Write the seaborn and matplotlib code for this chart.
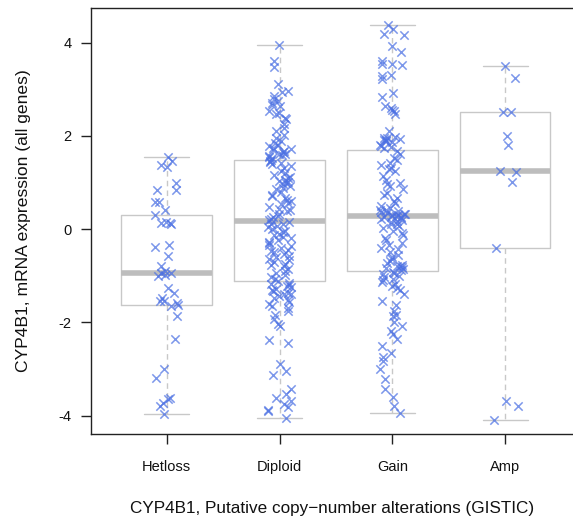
import numpy as np
import pandas as pd
import matplotlib
matplotlib.use("Agg")
import matplotlib.pyplot as plt
import seaborn as sns

groups = ["Hetloss", "Diploid", "Gain", "Amp"]

hetloss = [1.54, 1.47, 1.37, 1.33, 0.99, 0.83, 0.83, 0.58, 0.58, 0.42, 0.30, 0.15,
           0.14, 0.13, 0.11, -0.33, -0.39, -0.58, -0.79, -0.90, -0.94, -0.95, -0.98,
           -1.00, -1.26, -1.36, -1.48, -1.55, -1.55, -1.58, -1.62, -1.65, -1.86,
           -2.35, -3.00, -3.20, -3.61, -3.65, -3.72, -3.79, -3.97]

diploid = [3.94, 3.61, 3.47, 3.10, 2.96, 2.94, 2.85, 2.78, 2.74, 2.70, 2.67, 2.63,
           2.53, 2.49, 2.46, 2.38, 2.35, 2.25, 2.17, 2.10, 2.02, 1.95, 1.88, 1.84,
           1.81, 1.78, 1.74, 1.72, 1.70, 1.67, 1.65, 1.62, 1.60, 1.58, 1.56, 1.54, 1.52,
           1.48, 1.46, 1.43, 1.41, 1.39, 1.35, 1.30, 1.24, 1.20, 1.17, 1.12, 1.10,
           1.05, 1.03, 1.02, 0.98, 0.96, 0.92, 0.89, 0.85, 0.80, 0.74, 0.70, 0.67,
           0.63, 0.60, 0.55, 0.53, 0.48, 0.44, 0.40, 0.38, 0.33, 0.29, 0.25, 0.22, 0.19,
           0.15, 0.12, 0.10, 0.07, 0.04, 0.00, -0.03, -0.06, -0.10, -0.13, -0.16,
           -0.20, -0.24, -0.27, -0.30, -0.34, -0.37, -0.40, -0.44, -0.47, -0.50,
           -0.53, -0.57, -0.60, -0.64, -0.67, -0.70, -0.74, -0.77, -0.80, -0.85,
           -0.90, -0.94, -0.98, -1.03, -1.07, -1.11,
           -1.15, -1.17, -1.19, -1.22, -1.25, -1.28, -1.31, -1.33, -1.36, -1.38,
           -1.40, -1.44, -1.47, -1.52, -1.57, -1.61, -1.65, -1.68, -1.75, -1.83,
           -1.92, -2.04, -2.08, -2.37, -2.44, -2.90, -3.04, -3.13, -3.43, -3.54,
           -3.61, -3.68, -3.75, -3.82, -3.88, -3.90, -4.04]

gain = [4.38, 4.28, 4.18, 4.17, 3.92, 3.80, 3.60, 3.54, 3.54, 3.52, 3.31, 3.28,
        3.21, 2.92, 2.83, 2.63, 2.60, 2.56, 2.53, 2.46, 2.11, 1.98, 1.96, 1.95,
        1.93, 1.92, 1.90, 1.89, 1.86, 1.81, 1.78, 1.76, 1.74,
        1.68, 1.60, 1.52, 1.49, 1.42, 1.38, 1.31, 1.28, 1.24, 1.13, 1.05, 0.99,
        0.96, 0.92, 0.85, 0.78, 0.74, 0.67, 0.60, 0.56, 0.50, 0.46, 0.42, 0.40,
        0.38, 0.36, 0.35, 0.33, 0.32, 0.31, 0.30, 0.29, 0.28,
        0.27, 0.26, 0.24, 0.22, 0.20, 0.18, 0.15, 0.12, 0.10, 0.06, 0.02, -0.03,
        -0.08, -0.13, -0.18, -0.24, -0.30, -0.33, -0.40, -0.43, -0.50, -0.55,
        -0.60, -0.65, -0.69, -0.72, -0.76, -0.78, -0.80, -0.82, -0.84, -0.86, -0.88,
        -0.92, -0.95, -0.97, -1.00, -1.03, -1.06, -1.10, -1.14, -1.18, -1.22,
        -1.26, -1.30, -1.40, -1.55, -1.62, -1.76, -1.83, -1.86, -2.00, -2.08,
        -2.18, -2.25, -2.36, -2.50, -2.65, -2.75, -2.83, -3.00, -3.22, -3.43,
        -3.60, -3.79, -3.93]

amp = [3.49, 3.24, 2.50, 2.50, 1.99, 1.80, 1.24, 1.23, 1.01, -0.41, -3.68, -3.79, -4.08]

yticks = [-4, -2, 0, 2, 4]

df = pd.DataFrame({
    "group": (["Hetloss"] * len(hetloss) + ["Diploid"] * len(diploid)
              + ["Gain"] * len(gain) + ["Amp"] * len(amp)),
    "value": hetloss + diploid + gain + amp,
})

sns.set_style("white")
plt.rcParams["font.family"] = ["Liberation Sans", "DejaVu Sans"]

fig = plt.figure(figsize=(5.73, 5.18), dpi=100)
ax = fig.add_axes([0.1588, 0.1622, 0.8412, 0.8224])

box_col = "#c8c8c8"
sns.boxplot(data=df, x="group", y="value", order=groups, width=0.8, fill=False,
            whis=(0, 100), showfliers=False, color=box_col, linewidth=1.0,
            medianprops=dict(color="#bdbdbd", linewidth=4),
            whiskerprops=dict(color=box_col, linestyle=(0, (4, 3)), linewidth=1.0),
            capprops=dict(color=box_col, linewidth=1.0),
            boxprops=dict(color=box_col, linewidth=1.0),
            ax=ax, zorder=1)

np.random.seed(3)
sns.stripplot(data=df, x="group", y="value", order=groups, jitter=0.11,
              marker="x", color="#4a6fe3", size=6, linewidth=1.1, alpha=0.72,
              ax=ax, zorder=3)

ax.set_xlim(-0.67, 3.6)
ax.set_ylim(-4.39, 4.74)
ax.set_yticks(yticks)
ax.set_yticklabels([str(t) for t in yticks])

for s in ["left", "bottom", "top"]:
    ax.spines[s].set_color("#222222")
    ax.spines[s].set_linewidth(1.0)
ax.spines["right"].set_visible(False)

ax.tick_params(axis="both", which="both", direction="out", length=7, width=1,
               color="#222222", labelsize=10.5, labelcolor="#111111", pad=7,
               left=True, bottom=True)
ax.tick_params(axis="x", pad=12)

ax.set_xlabel("CYP4B1, Putative copy\u2212number alterations (GISTIC)",
              fontsize=12.3, color="#111111", labelpad=19)
ax.set_ylabel("CYP4B1, mRNA expression (all genes)", fontsize=12.6,
              color="#111111", labelpad=20)

fig.savefig("out.png", dpi=100)
